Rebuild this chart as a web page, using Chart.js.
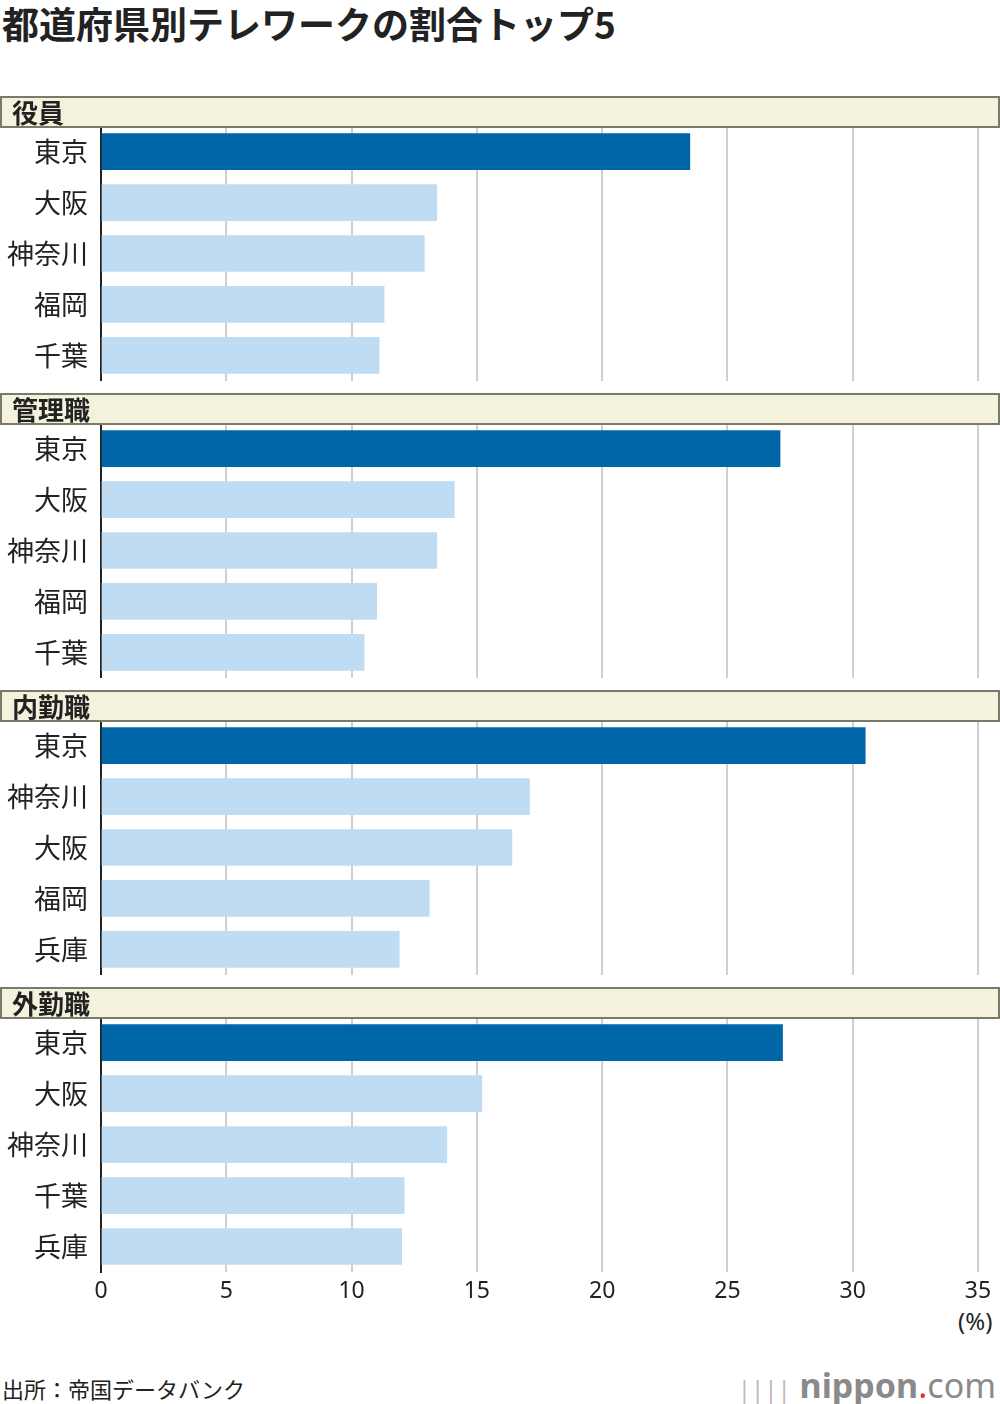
<!DOCTYPE html>
<html><head><meta charset="utf-8">
<script src="https://cdn.jsdelivr.net/npm/chart.js@4"></script>
<style>
  body { margin:0; width:1000px; height:1404px; background:#fff; position:relative; font-family:"Noto Sans CJK JP", sans-serif; color:#222; overflow:hidden; }
  .abs { position:absolute; }
  .title { left:2px; top:-2px; font-size:37px; font-weight:700; line-height:50px; }
  .band { left:0; width:986px; height:28px; background:#f4f1dd; border:2px solid #7a7a6a; font-size:26px; font-weight:700; line-height:28px; padding-left:10px; box-sizing:content-box; z-index:2; }
  .src { left:2px; top:1372px; font-size:22px; }
  .unit { left:958px; top:1304px; font-size:24px; font-family:"Noto Sans", sans-serif; }
  .logo { right:4px; top:1362px; font-size:34px; color:#8a8a8a; font-family:"Noto Sans", sans-serif; }
</style></head>
<body>
<div class="abs title">都道府県別テレワークの割合トップ5</div>
<div class="abs unit">(%)</div>
<div class="abs src">出所：帝国データバンク</div>
<div class="abs logo"><span style="color:#bbb;font-size:24px">||||</span> <b>nippon</b><span style="color:#d33">.</span>com</div>
<div id="wrap"></div>
<script>
// ── Data ─────────────────────────────────────────
const groups = ['役員', '管理職', '内勤職', '外勤職'];
const labelsYakuin = ['東京', '大阪', '神奈川', '福岡', '千葉'];
const valuesYakuin = [23.5, 13.4, 12.9, 11.3, 11.1];
const labelsKanri = ['東京', '大阪', '神奈川', '福岡', '千葉'];
const valuesKanri = [27.1, 14.1, 13.4, 11.0, 10.5];
const labelsNaikin = ['東京', '神奈川', '大阪', '福岡', '兵庫'];
const valuesNaikin = [30.5, 17.1, 16.4, 13.1, 11.9];
const labelsGaikin = ['東京', '大阪', '神奈川', '千葉', '兵庫'];
const valuesGaikin = [27.2, 15.2, 13.8, 12.1, 12.0];
const xTicks = [0, 5, 10, 15, 20, 25, 30, 35];

const panelLabels = [labelsYakuin, labelsKanri, labelsNaikin, labelsGaikin];
const panelValues = [valuesYakuin, valuesKanri, valuesNaikin, valuesGaikin];

const wrap = document.getElementById('wrap');
const PERIOD = 297;
const PAD = 29; // label padding Chart.js reserves above/below the y axis

groups.forEach(function (g, i) {
  var top = 96 + i * PERIOD;
  var band = document.createElement('div');
  band.className = 'abs band';
  band.style.top = top + 'px';
  band.textContent = g;
  wrap.appendChild(band);

  var last = i === groups.length - 1;
  var box = document.createElement('div');
  box.className = 'abs';
  box.style.left = '0px';
  box.style.top = (top + 30 - PAD) + 'px';
  box.style.width = '1000px';
  box.style.height = (last ? 295 + PAD : 255 + 2 * PAD) + 'px';
  var cv = document.createElement('canvas');
  box.appendChild(cv);
  wrap.appendChild(box);

  new Chart(cv, {
    type: 'bar',
    data: {
      labels: panelLabels[i],
      datasets: [{
        data: panelValues[i],
        backgroundColor: panelValues[i].map(function (v, k) { return k === 0 ? '#0066a8' : '#bfdcf2'; }),
        barThickness: 36
      }]
    },
    options: {
      indexAxis: 'y',
      responsive: true,
      maintainAspectRatio: false,
      animation: false,
      layout: { padding: { left: 0, right: 22, top: 0, bottom: 0 } },
      plugins: { legend: { display: false }, tooltip: { enabled: false } },
      scales: {
        x: {
          min: 0, max: 35,
          afterBuildTicks: function (s) { s.ticks = xTicks.map(function (v) { return { value: v }; }); },
          afterFit: function (s) { s.height = last ? 40 : 0; },
          grid: { color: '#cfcfcf', lineWidth: 2, drawTicks: false },
          border: { display: false },
          ticks: { display: last, padding: 6, color: '#222', font: { size: 23, family: 'Noto Sans' } }
        },
        y: {
          afterFit: function (s) { s.width = 101; },
          grid: { display: false, drawTicks: false },
          border: { color: '#222', width: 2 },
          ticks: { padding: 13, color: '#222', font: { size: 27, family: 'Noto Sans CJK JP' } }
        }
      }
    }
  });
});
</script>
</body></html>
